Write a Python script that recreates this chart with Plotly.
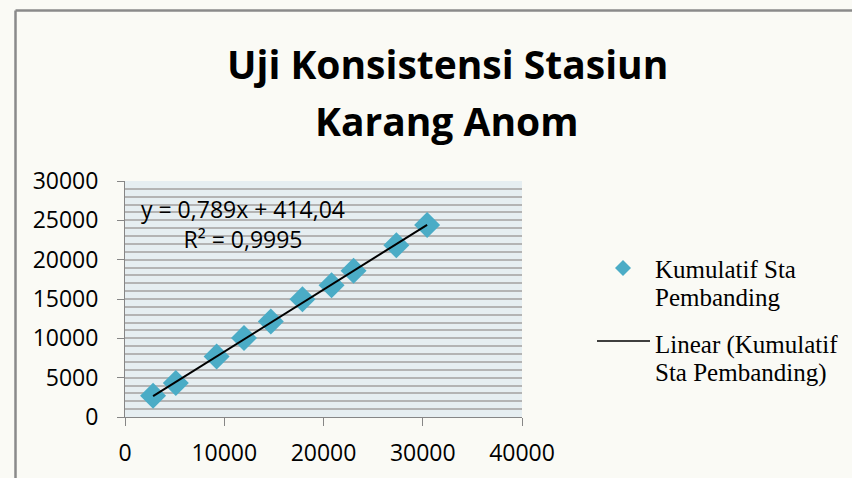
import plotly.graph_objects as go

# Cumulative rainfall: comparison stations (x) vs Karang Anom station (y)
kumulatif_x = [2830, 5120, 9230, 11990, 14690, 17880, 20810, 23030, 27340, 30440]
kumulatif_y = [2700, 4320, 7690, 10030, 12130, 14980, 16750, 18600, 21830, 24400]

# Linear trendline parameters as printed on the chart
slope = 0.789
intercept = 414.04
r_squared = 0.9995

x_ticks = [0, 10000, 20000, 30000, 40000]
y_ticks = [0, 5000, 10000, 15000, 20000, 25000, 30000]

W, H = 852, 478
L, R, T, B = 125, 330, 181, 61
PW, PH = W - L - R, H - T - B


def px(xp):
    return (xp - L) / PW


def py(yp):
    return (H - B - yp) / PH


trend_x = [min(kumulatif_x), max(kumulatif_x)]
trend_y = [slope * v + intercept for v in trend_x]

fig = go.Figure()
fig.add_trace(go.Scatter(
    x=kumulatif_x, y=kumulatif_y, mode="markers",
    name="Kumulatif Sta Pembanding",
    marker=dict(symbol="diamond", size=20, color="#4bacc6"),
    showlegend=False,
))
fig.add_trace(go.Scatter(
    x=trend_x, y=trend_y, mode="lines",
    name="Linear (Kumulatif Sta Pembanding)",
    line=dict(color="black", width=2),
    showlegend=False,
))

sans = "Open Sans"
serif = "Liberation Serif"

fig.update_layout(
    width=W, height=H,
    margin=dict(l=L, r=R, t=T, b=B, autoexpand=False),
    paper_bgcolor="#fafaf5",
    plot_bgcolor="#e6eef1",
    xaxis=dict(
        range=[0, 40000], tickvals=x_ticks, ticktext=[str(v) for v in x_ticks],
        showgrid=False, zeroline=False, automargin=False,
        showline=True, linecolor="#868686", linewidth=1,
        ticks="outside", ticklen=8, tickcolor="#868686", tickwidth=1,
        ticklabelstandoff=7,
        tickfont=dict(family=sans, size=23, color="black"),
    ),
    yaxis=dict(
        range=[0, 30000], tickvals=y_ticks, ticktext=[str(v) for v in y_ticks],
        showgrid=True, gridcolor="#b4b4b4", gridwidth=1.5, zeroline=False,
        automargin=False,
        showline=True, linecolor="#868686", linewidth=1,
        ticks="outside", ticklen=7, tickcolor="#868686", tickwidth=1,
        ticklabelstandoff=14,
        tickfont=dict(family=sans, size=23, color="black"),
        minor=dict(dtick=1000, showgrid=True, gridcolor="#b4b4b4", gridwidth=1.5),
    ),
    showlegend=False,
)

# Chart title, two lines
for text, yc in [("Uji Konsistensi Stasiun", 63), ("Karang Anom", 120)]:
    fig.add_annotation(xref="paper", yref="paper", xanchor="center", yanchor="middle",
                       x=px(447), y=py(yc), text=f"<b>{text}</b>", showarrow=False,
                       font=dict(family=sans, size=39, color="black"))

# Trendline equation and R²
fig.add_annotation(xref="paper", yref="paper", xanchor="center", yanchor="middle",
                   x=px(243), y=py(224), align="center", showarrow=False,
                   text=f"y = {str(slope).replace('.', ',')}x + {str(intercept).replace('.', ',')}"
                        f"<br>R² = {str(r_squared).replace('.', ',')}",
                   font=dict(family=sans, size=23, color="black"))

# Legend drawn beside the plot
legend_lines = [
    ("Kumulatif Sta", 269),
    ("Pembanding", 297),
    ("Linear (Kumulatif", 345),
    ("Sta Pembanding)", 373),
]
for text, yc in legend_lines:
    fig.add_annotation(xref="paper", yref="paper", xanchor="left", yanchor="middle",
                       x=px(653), y=py(yc), text=text, showarrow=False,
                       font=dict(family=serif, size=25, color="black"))

cx, cy, d = 623, 268, 8
fig.add_shape(type="path", xref="paper", yref="paper",
              path=f"M {px(cx - d)} {py(cy)} L {px(cx)} {py(cy - d)} L {px(cx + d)} {py(cy)} L {px(cx)} {py(cy + d)} Z",
              fillcolor="#4bacc6", line=dict(width=0))
fig.add_shape(type="line", xref="paper", yref="paper",
              x0=px(597), x1=px(650), y0=py(341), y1=py(341),
              line=dict(color="black", width=1.5))

# Outer chart frame (top and left edges)
fig.add_shape(type="line", xref="paper", yref="paper",
              x0=px(15.5), x1=px(W + 10), y0=py(10.5), y1=py(10.5),
              line=dict(color="#8a8a8a", width=2.5))
fig.add_shape(type="line", xref="paper", yref="paper",
              x0=px(15.5), x1=px(15.5), y0=py(10.5), y1=py(H + 10),
              line=dict(color="#8a8a8a", width=2.5))

fig.write_html("out.html")
